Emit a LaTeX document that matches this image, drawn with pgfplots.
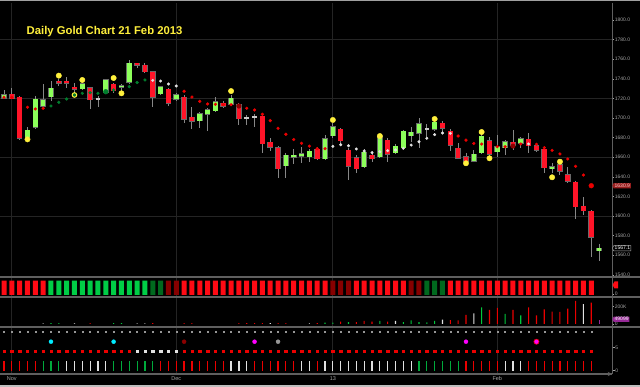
\documentclass[border=0pt]{standalone}
\usepackage{pgfplots}
\pgfplotsset{compat=1.18}
\usepackage{pgfplotstable}
\usepackage{fontspec}
\setmainfont{Liberation Sans}
\usetikzlibrary{shapes.symbols}

\definecolor{upc}{RGB}{140,255,90}
\definecolor{dnc}{RGB}{255,20,40}
\definecolor{wickc}{RGB}{135,135,135}
\definecolor{edgec}{RGB}{105,105,105}
\definecolor{sarred}{RGB}{235,0,0}
\definecolor{sargreen}{RGB}{0,125,45}
\definecolor{sarwhite}{RGB}{225,225,225}
\definecolor{yel}{RGB}{255,240,60}
\definecolor{dred}{RGB}{140,0,0}
\definecolor{gridc}{RGB}{36,36,36}
\definecolor{sepc}{RGB}{95,95,95}
\definecolor{labc}{RGB}{165,165,165}
\definecolor{stripred}{RGB}{255,10,20}
\definecolor{stripgreen}{RGB}{0,205,70}
\definecolor{stripdgreen}{RGB}{0,105,30}
\definecolor{stripdred}{RGB}{135,0,0}
\definecolor{dojic}{RGB}{200,200,200}
\definecolor{cyanc}{RGB}{0,235,255}
\definecolor{magc}{RGB}{255,0,255}
\definecolor{purp}{RGB}{150,40,150}
\definecolor{dotgray}{RGB}{150,150,150}
\definecolor{volgreen}{RGB}{0,200,60}
\definecolor{indgreen}{RGB}{0,170,60}
\definecolor{tagred}{RGB}{150,30,30}
\definecolor{tagtext}{RGB}{255,200,200}
\definecolor{topc}{RGB}{160,160,160}
\definecolor{botc}{RGB}{190,190,190}

\pgfplotstableread{
x o h l c
0 1720.0 1729.0 1719.5 1723.5
3 1680.3 1690.5 1679.0 1687.7
4 1690.5 1722.5 1689.0 1719.0
5 1712.2 1734.4 1709.0 1718.4
6 1721.7 1737.5 1717.7 1730.3
10 1730.0 1737.5 1728.6 1734.7
13 1726.2 1740.0 1725.0 1738.8
15 1731.3 1735.0 1728.0 1733.0
16 1736.4 1759.0 1735.0 1755.8
20 1724.5 1733.0 1723.0 1731.9
22 1719.1 1725.0 1717.0 1723.5
25 1697.3 1706.0 1689.5 1704.1
26 1704.0 1710.0 1687.0 1708.2
27 1707.5 1721.0 1706.0 1716.6
29 1713.9 1723.5 1712.0 1720.1
36 1651.3 1664.0 1638.4 1662.2
37 1659.9 1668.0 1653.0 1662.2
38 1661.2 1670.7 1653.8 1663.3
39 1660.5 1668.0 1655.4 1666.3
41 1658.5 1682.7 1657.0 1678.6
42 1682.0 1694.6 1680.0 1691.2
46 1650.3 1668.0 1649.0 1665.3
48 1660.5 1682.0 1659.0 1680.9
50 1664.6 1673.0 1663.0 1671.4
51 1669.7 1688.0 1668.0 1686.7
52 1682.0 1690.5 1675.8 1685.7
53 1684.4 1699.7 1669.1 1693.9
55 1688.5 1697.0 1687.0 1695.6
60 1656.1 1667.3 1655.0 1663.0
61 1664.6 1684.0 1663.0 1681.6
63 1665.6 1682.7 1660.5 1670.7
64 1669.7 1677.5 1662.2 1675.8
66 1674.2 1681.0 1669.0 1678.9
70 1648.8 1653.8 1643.5 1649.8
76 1564.6 1571.4 1554.4 1567.1
}\upcandles

\pgfplotstableread{
x o h l c
1 1724.5 1731.0 1719.0 1719.7
2 1721.0 1722.0 1678.0 1679.5
7 1736.8 1739.5 1733.0 1736.0
8 1736.8 1741.5 1731.0 1736.0
9 1731.5 1736.0 1727.0 1729.5
11 1731.0 1732.0 1709.0 1718.4
14 1734.4 1736.0 1726.0 1727.9
17 1755.0 1756.5 1750.7 1754.5
18 1754.0 1755.8 1746.0 1747.3
19 1747.3 1748.0 1711.0 1721.0
21 1729.3 1731.0 1712.0 1715.0
23 1721.4 1723.0 1695.0 1698.6
24 1700.7 1711.0 1688.5 1696.6
28 1715.0 1717.0 1710.0 1712.2
30 1714.0 1715.0 1693.0 1699.0
33 1702.0 1705.4 1664.6 1673.5
34 1675.2 1679.3 1666.6 1670.1
35 1669.7 1671.0 1638.4 1648.3
40 1668.0 1670.0 1657.0 1658.2
43 1688.5 1690.0 1671.4 1676.8
44 1667.0 1669.0 1636.7 1651.0
45 1659.5 1662.0 1643.5 1648.3
47 1662.2 1666.3 1655.4 1658.2
49 1677.5 1679.3 1655.4 1663.0
56 1694.6 1697.0 1685.0 1689.5
57 1686.7 1688.5 1666.6 1672.4
58 1669.0 1674.0 1657.8 1659.0
59 1660.5 1664.0 1654.0 1655.8
62 1676.8 1680.3 1661.0 1663.0
65 1675.2 1687.7 1667.3 1672.4
67 1678.2 1684.4 1664.0 1671.7
68 1671.7 1674.2 1665.6 1667.3
69 1668.0 1670.0 1644.2 1649.3
71 1652.4 1654.4 1641.8 1645.9
72 1642.1 1650.3 1633.4 1635.7
73 1634.7 1636.0 1597.0 1609.5
74 1610.2 1619.0 1601.0 1605.1
75 1604.8 1606.0 1558.5 1578.3
}\downcandles

\pgfplotstableread{
x o h l c
12 1719.6 1722.0 1711.0 1719.2
31 1700.0 1703.0 1693.0 1699.5
32 1701.0 1704.0 1690.5 1700.5
54 1688.7 1694.0 1681.0 1688.3
}\dojicandles

\pgfplotsset{
  chartbase/.style={
    scale only axis, anchor=south west, width=612pt,
    xmin=-0.511, xmax=77.65,
    axis y line*=right,
    axis line style={draw=sepc, line width=0.9pt, -},
    tick align=outside, major tick length=2pt,
    tick style={draw=labc, line width=0.4pt},
    yticklabel style={font=\fontsize{5}{5}\selectfont, text=labc, inner sep=0.6pt},
    /pgf/number format/assume math mode=true,
  },
  nox/.style={axis x line=none},
  wicks/.style={draw=none, mark=none, error bars/.cd, y dir=both, y explicit, error mark=none,
    error bar style={draw=wickc, line width=0.9pt}},
  edges/.style={draw=none, mark=none, error bars/.cd, y dir=both, y explicit, error mark=none,
    error bar style={draw=edgec, line width=5.6pt}},
  bodies/.style={draw=none, mark=none, error bars/.cd, y dir=both, y explicit, error mark=none,
    error bar style={draw=#1, line width=4.6pt}},
}

\begin{document}
\begin{tikzpicture}
\path[use as bounding box, fill=black] (0pt,0pt) rectangle (640pt,387pt);

% ---------------- main price panel ----------------
\begin{axis}[chartbase, nox, at={(0pt,110pt)}, height=274pt,
  ymin=1537.75, ymax=1817.35, clip=false,
  ytick={1540,1560,...,1800},
  /pgf/number format/fixed, /pgf/number format/fixed zerofill,
  /pgf/number format/precision=1, /pgf/number format/1000 sep={}]
  \foreach \g in {1600,1660,1720,1780} {
    \edef\tmp{\noexpand\draw[gridc, line width=0.6pt] (axis cs:-0.511,\g) -- (axis cs:77.65,\g);}\tmp
  }
  \foreach \v in {1,22,42,63} {
    \edef\tmp{\noexpand\draw[gridc, line width=0.8pt] (axis cs:\v,1537.75) -- (axis cs:\v,1817.35);}\tmp
  }
  \addplot[wicks] table[x=x, y expr={(\thisrow{h}+\thisrow{l})/2}, y error expr={(\thisrow{h}-\thisrow{l})/2}] {\upcandles};
  \addplot[wicks] table[x=x, y expr={(\thisrow{h}+\thisrow{l})/2}, y error expr={(\thisrow{h}-\thisrow{l})/2}] {\downcandles};
  \addplot[wicks] table[x=x, y expr={(\thisrow{h}+\thisrow{l})/2}, y error expr={(\thisrow{h}-\thisrow{l})/2}] {\dojicandles};
  \addplot[edges] table[x=x, y expr={(\thisrow{o}+\thisrow{c})/2}, y error expr={max(abs(\thisrow{o}-\thisrow{c})/2,0.9)+0.5}] {\upcandles};
  \addplot[edges] table[x=x, y expr={(\thisrow{o}+\thisrow{c})/2}, y error expr={max(abs(\thisrow{o}-\thisrow{c})/2,0.9)+0.5}] {\downcandles};
  \addplot[bodies=upc] table[x=x, y expr={(\thisrow{o}+\thisrow{c})/2}, y error expr={max(abs(\thisrow{o}-\thisrow{c})/2,0.9)}] {\upcandles};
  \addplot[bodies=dnc] table[x=x, y expr={(\thisrow{o}+\thisrow{c})/2}, y error expr={max(abs(\thisrow{o}-\thisrow{c})/2,0.9)}] {\downcandles};
  \addplot[bodies=dojic] table[x=x, y expr={(\thisrow{o}+\thisrow{c})/2}, y error expr={max(abs(\thisrow{o}-\thisrow{c})/2,0.8)}] {\dojicandles};
  \addplot[only marks, mark=*, mark size=1.4pt, color=sarred] coordinates {
    (0,1721.1)(1,1721.1)(3,1711)(4,1709.2)(5,1709.9)(23,1727.3)(24,1721.4)(25,1717)(26,1714.3)
    (27,1714)(28,1713.6)(29,1713.6)(31,1709.9)(32,1708.2)(33,1703.8)(34,1697.3)(35,1689.5)
    (36,1683.4)(37,1678)(38,1674.2)(39,1671.3)(40,1668.7)(41,1668.7)(58,1681.6)(59,1677.4)
    (60,1674)(61,1673.4)(63,1670.7)(64,1670.7)(66,1673.5)(68,1673.2)(69,1669.7)(70,1667)
    (71,1663.3)(72,1658.2)(73,1650.7)(74,1641.8)};
  \addplot[only marks, mark=*, mark size=1.4pt, color=sargreen] coordinates {
    (6,1712.2)(7,1716)(8,1719.4)(10,1725.2)(11,1725.8)(12,1725.2)(14,1728.6)(16,1732)(17,1736.2)(18,1738.8)};
  \addplot[only marks, mark=*, mark size=1.3pt, color=sarwhite] coordinates {
    (19,1738.4)(20,1737.7)(21,1734.7)(22,1732.7)(42,1671.1)(43,1672.7)(44,1671.7)(45,1668.4)
    (46,1666.3)(47,1664.6)(48,1665.6)(49,1666.6)(50,1667.3)(51,1669.1)(52,1672.4)(53,1675.8)
    (54,1679.3)(55,1683)(56,1684.7)(57,1684.4)(67,1673.5)};
  \addplot[only marks, mark=*, mark size=2.4pt, color=sargreen] coordinates {(13,1726.8)};
  \addplot[only marks, mark=*, mark size=2.3pt, color=dred] coordinates {(30,1712.2)(65,1671.4)};
  \addplot[only marks, mark=*, mark size=2.4pt, color=sarred] coordinates {(75,1630.9)};
  \addplot[only marks, mark=*, mark size=2.7pt, color=yel] coordinates {
    (3,1678.2)(7,1743.2)(10,1738.8)(14,1740.8)(15,1725.2)(29,1727.5)(42,1698)(48,1681.6)
    (55,1699)(59,1653.8)(61,1685.7)(62,1658.9)(70,1639.5)(71,1655.4)};
  \addplot[only marks, mark=*, mark size=2.3pt, draw=yel, fill=sargreen, line width=1pt] coordinates {(9,1723.5)};
  \node[signal, signal to=west, signal pointer angle=120, fill=tagred,
        text=tagtext, inner sep=0.9pt, anchor=west,
        font=\fontsize{5}{5}\selectfont] at (axis cs:77.65,1630.9) {1630.9};
  \node[signal, signal to=west, signal pointer angle=120, fill=black, draw=labc, line width=0.5pt,
        text=white, inner sep=0.9pt, anchor=west,
        font=\fontsize{5}{5}\selectfont] at (axis cs:77.65,1567.1) {1567.1};
\end{axis}

% ---------------- strip panel ----------------
\begin{axis}[chartbase, nox, at={(0pt,90pt)}, height=19.5pt, ymin=-0.14, ymax=1.224,
  ytick={0.07}, yticklabels={0}]
  \foreach \v in {1,22,42,63} {
    \edef\tmp{\noexpand\draw[gridc, line width=0.8pt] (axis cs:\v,-0.14) -- (axis cs:\v,1.224);}\tmp
  }
  \addplot[ybar, bar width=5pt, bar shift=0pt, fill=stripred, draw=none] coordinates {
    (0,1)(1,1)(2,1)(3,1)(4,1)(5,1)(23,1)(24,1)(25,1)(26,1)(27,1)(28,1)(29,1)(30,1)(31,1)(32,1)
    (33,1)(34,1)(35,1)(36,1)(37,1)(38,1)(39,1)(40,1)(41,1)(45,1)(46,1)(47,1)(48,1)(49,1)(50,1)(51,1)
    (57,1)(58,1)(59,1)(60,1)(61,1)(62,1)(63,1)(64,1)(65,1)(66,1)(67,1)(68,1)(69,1)(70,1)(71,1)
    (72,1)(73,1)(74,1)(75,1)};
  \addplot[ybar, bar width=5pt, bar shift=0pt, fill=stripgreen, draw=none] coordinates {
    (6,1)(7,1)(8,1)(9,1)(10,1)(11,1)(12,1)(13,1)(14,1)(15,1)(16,1)(17,1)(18,1)};
  \addplot[ybar, bar width=5pt, bar shift=0pt, fill=stripdgreen, draw=none] coordinates {
    (19,1)(20,1)(54,1)(55,1)(56,1)};
  \addplot[ybar, bar width=5pt, bar shift=0pt, fill=stripdred, draw=none] coordinates {
    (21,1)(22,1)(42,1)(43,1)(44,1)(52,1)(53,1)};
\end{axis}

% ---------------- volume panel ----------------
\begin{axis}[chartbase, nox, at={(0pt,60pt)}, height=30pt, ymin=-34.7, ymax=312.1,
  ytick={0,200}, yticklabels={0,200K}, clip=false]
  \foreach \v in {1,22,42,63} {
    \edef\tmp{\noexpand\draw[gridc, line width=0.8pt] (axis cs:\v,-34.7) -- (axis cs:\v,312.1);}\tmp
  }
  \addplot[ybar, bar width=1.1pt, bar shift=0pt, fill=sarred, draw=none] coordinates {
    (11,10)(19,10)(23,10)(24,10)(30,10)(31,10)(32,10)(33,10)(35,10)(36,10)(40,10)(43,27)(45,23)
    (46,35)(47,27)(49,27)(57,46)(58,43)(59,104)(62,162)(63,185)(65,162)(67,193)(68,100)(69,170)
    (70,142)(71,139)(72,177)(73,266)(75,246)};
  \addplot[ybar, bar width=1.1pt, bar shift=0pt, fill=volgreen, draw=none] coordinates {
    (6,10)(7,10)(14,10)(15,10)(41,15)(42,15)(44,23)(48,35)(51,23)(52,43)(53,23)(54,19)(55,35)
    (61,193)(64,116)(66,100)};
  \addplot[ybar, bar width=1.1pt, bar shift=0pt, fill=sarwhite, draw=none] coordinates {
    (34,10)(50,35)(56,50)(60,124)(74,231)};
  \addplot[ybar, bar width=1.1pt, bar shift=0pt, fill=dotgray, draw=none] coordinates {
    (5,10)(9,10)(17,10)(18,10)(39,10)};
  \addplot[ybar, bar width=1.1pt, bar shift=0pt, fill=purp, draw=none] coordinates {(76,46)};
  \node[signal, signal to=west, signal pointer angle=120, fill=purp, text=white, inner sep=0.9pt,
        anchor=west, font=\fontsize{5}{5}\selectfont] at (axis cs:77.65,55) {49099};
\end{axis}

% ---------------- indicator panel ----------------
\begin{axis}[chartbase, at={(0pt,13pt)}, height=47pt, ymin=0, ymax=47,
  axis x line=bottom, xtick pos=left, xticklabel pos=left,
  xtick={1,22,42,63}, xticklabels={Nov,Dec,13,Feb},
  xticklabel style={font=\fontsize{5.5}{5.5}\selectfont, text=labc, inner sep=1pt},
  major tick length=2.5pt,
  ytick={3.3,26.3}, yticklabels={0,5}]
  \foreach \v in {1,22,42,63} {
    \edef\tmp{\noexpand\draw[gridc, line width=0.8pt] (axis cs:\v,0) -- (axis cs:\v,47);}\tmp
  }
  \addplot[only marks, mark=square*, mark size=0.5pt, color=dotgray] coordinates {
    (0,42)(1,42)(2,42)(3,42)(4,42)(5,42)(6,42)(7,42)(8,42)(9,42)(10,42)(11,42)(12,42)(13,42)(14,42)
    (15,42)(16,42)(17,42)(18,42)(19,42)(20,42)(21,42)(22,42)(23,42)(24,42)(25,42)(26,42)(27,42)
    (28,42)(29,42)(30,42)(31,42)(32,42)(33,42)(34,42)(35,42)(36,42)(37,42)(38,42)(39,42)(40,42)
    (41,42)(42,42)(43,42)(44,42)(45,42)(46,42)(47,42)(48,42)(49,42)(50,42)(51,42)(52,42)(53,42)
    (54,42)(55,42)(56,42)(57,42)(58,42)(59,42)(60,42)(61,42)(62,42)(63,42)(64,42)(65,42)(66,42)
    (67,42)(68,42)(69,42)(70,42)(71,42)(72,42)(73,42)(74,42)(75,42)};
  \addplot[only marks, mark=*, mark size=2pt, color=cyanc] coordinates {(6,32.3)(14,32.3)};
  \addplot[only marks, mark=*, mark size=2pt, color=dred] coordinates {(23,32.3)};
  \addplot[only marks, mark=*, mark size=2pt, color=magc] coordinates {(32,32.3)(59,32.3)};
  \addplot[only marks, mark=*, mark size=2pt, color=dotgray] coordinates {(35,32.3)};
  \addplot[only marks, mark=*, mark size=2.6pt, draw=sarred, fill=magc, line width=0.6pt] coordinates {(68,32.3)};
  \addplot[only marks, mark=square*, mark size=1.2pt, color=sarred] coordinates {
    (0,22.7)(1,22.7)(2,22.7)(3,22.7)(4,22.7)(5,22.7)(6,22.7)(7,22.7)(8,22.7)(9,22.7)(10,22.7)
    (11,22.7)(12,22.7)(13,22.7)(14,22.7)(15,22.7)(16,22.7)(23,22.7)(24,22.7)(25,22.7)(26,22.7)
    (27,22.7)(28,22.7)(29,22.7)(30,22.7)(31,22.7)(32,22.7)(33,22.7)(34,22.7)(35,22.7)(36,22.7)
    (37,22.7)(38,22.7)(39,22.7)(40,22.7)(41,22.7)(42,22.7)(43,22.7)(44,22.7)(45,22.7)(46,22.7)
    (47,22.7)(48,22.7)(49,22.7)(50,22.7)(51,22.7)(52,22.7)(53,22.7)(54,22.7)(55,22.7)(56,22.7)
    (57,22.7)(58,22.7)(59,22.7)(60,22.7)(61,22.7)(62,22.7)(63,22.7)(64,22.7)(65,22.7)(66,22.7)
    (67,22.7)(68,22.7)(69,22.7)(70,22.7)(71,22.7)(72,22.7)(73,22.7)(74,22.7)(75,22.7)};
  \addplot[only marks, mark=square*, mark size=1.2pt, color=sarwhite] coordinates {
    (17,22.7)(18,22.7)(19,22.7)(20,22.7)(21,22.7)(22,22.7)};
  \addplot[draw=none, mark=none, error bars/.cd, y dir=both, y fixed=5, error mark=none,
    error bar style={draw=sarred, line width=1.2pt}] coordinates {
    (0,8.3)(1,8.3)(2,8.3)(3,8.3)(4,8.3)(20,8.3)(21,8.3)(22,8.3)(23,8.3)(24,8.3)(25,8.3)(26,8.3)
    (27,8.3)(28,8.3)(32,8.3)(33,8.3)(34,8.3)(35,8.3)(36,8.3)(37,8.3)(40,8.3)(59,8.3)(60,8.3)
    (61,8.3)(62,8.3)(63,8.3)(67,8.3)(68,8.3)(69,8.3)(70,8.3)(71,8.3)(72,8.3)(73,8.3)(74,8.3)(75,8.3)};
  \addplot[draw=none, mark=none, error bars/.cd, y dir=both, y fixed=5, error mark=none,
    error bar style={draw=indgreen, line width=1.2pt}] coordinates {
    (5,8.3)(6,8.3)(7,8.3)(14,8.3)(15,8.3)(16,8.3)(17,8.3)(18,8.3)(19,8.3)(53,8.3)(54,8.3)(55,8.3)
    (56,8.3)(57,8.3)(58,8.3)};
  \addplot[draw=none, mark=none, error bars/.cd, y dir=both, y fixed=5, error mark=none,
    error bar style={draw=sarwhite, line width=1.2pt}] coordinates {
    (8,8.3)(9,8.3)(10,8.3)(11,8.3)(12,8.3)(13,8.3)(29,8.3)(30,8.3)(31,8.3)(38,8.3)(39,8.3)(41,8.3)
    (42,8.3)(43,8.3)(44,8.3)(45,8.3)(46,8.3)(47,8.3)(48,8.3)(49,8.3)(50,8.3)(51,8.3)(52,8.3)
    (64,8.3)(65,8.3)(66,8.3)};
\end{axis}

\draw[sepc, line width=1.4pt] (0pt,110pt) -- (640pt,110pt);
\draw[sepc, line width=1.4pt] (0pt,90pt) -- (640pt,90pt);
\draw[sepc, line width=1.4pt] (0pt,60pt) -- (640pt,60pt);
\draw[sepc, line width=1.2pt] (0pt,13pt) -- (612pt,13pt);
\draw[draw=topc, line width=1.2pt] (0pt,386.4pt) -- (640pt,386.4pt);
\fill[fill=botc] (0pt,0pt) rectangle (640pt,2.2pt);
\fill[fill=stripred] (612.5pt,102pt) -- (614.5pt,105.5pt) -- (618pt,105.5pt) -- (618pt,98.5pt) -- (614.5pt,98.5pt) -- cycle;
\node[anchor=base west, inner sep=0pt, text=yel, font=\bfseries\fontsize{11.3}{12}\selectfont]
  at (26.5pt,352.7pt) {Daily Gold Chart 21 Feb 2013};
\end{tikzpicture}
\end{document}
